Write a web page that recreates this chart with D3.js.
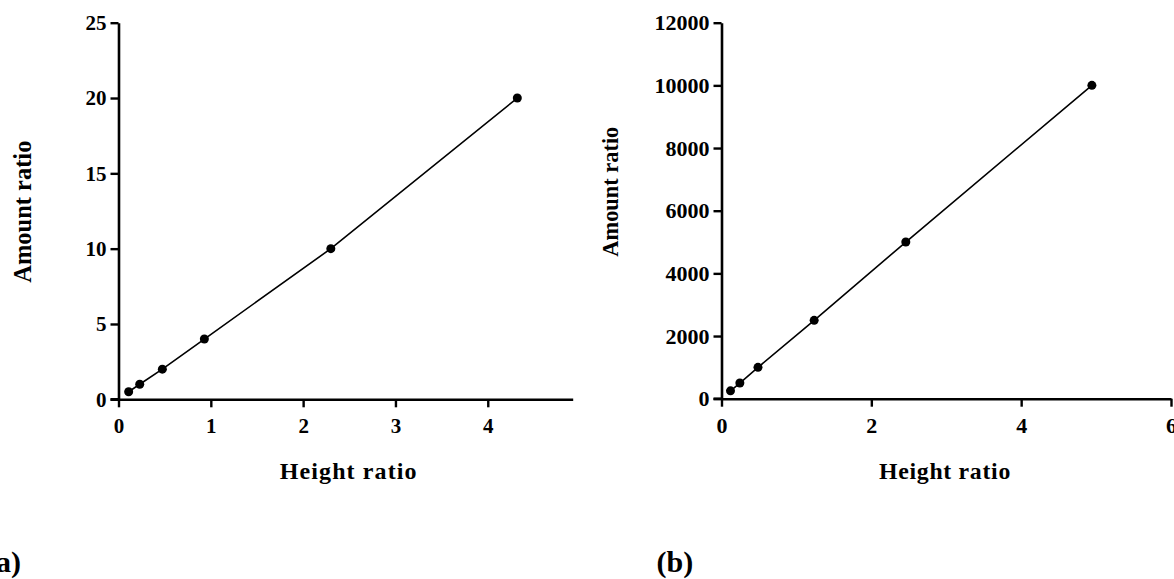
<!DOCTYPE html>
<html><head><meta charset="utf-8">
<script src="https://cdn.jsdelivr.net/npm/d3@7"></script>
<style>
body{margin:0;background:#fff}
svg{display:block;background:#fff}
text{font-family:"Liberation Serif","Times New Roman",serif;font-weight:bold;fill:#000}
</style>
</head><body>
<svg id="c" width="1174" height="579"></svg>
<script>
// Panel (a)
const heightRatioA = [0.11, 0.23, 0.475, 0.93, 2.30, 4.32];
const amountRatioA = [0.5, 1, 2, 4, 10, 20];
const xTicksA = [0, 1, 2, 3, 4];
const yTicksA = [0, 5, 10, 15, 20, 25];
// Panel (b)
const heightRatioB = [0.12, 0.245, 0.487, 1.237, 2.46, 4.944];
const amountRatioB = [250, 500, 1000, 2500, 5000, 10000];
const xTicksB = [0, 2, 4, 6];
const yTicksB = [0, 2000, 4000, 6000, 8000, 10000, 12000];
const xLabel = "Height ratio";
const yLabel = "Amount ratio";
const panelLabels = ["(a)", "(b)"];

const svg = d3.select("#c");

function panel(cfg) {
  const x = d3.scaleLinear().domain(cfg.xDomain).range(cfg.xRange);
  const y = d3.scaleLinear().domain(cfg.yDomain).range(cfg.yRange);
  const g = svg.append("g");

  const xAxis = d3.axisBottom(x).tickValues(cfg.xTicks).tickSize(8).tickSizeOuter(0).tickPadding(11).tickFormat(d3.format("d"));
  const gx = g.append("g").attr("transform", `translate(0,${cfg.yRange[0]})`).call(xAxis);
  const yAxis = d3.axisLeft(y).tickValues(cfg.yTicks).tickSize(8).tickSizeOuter(0).tickPadding(cfg.yPad).tickFormat(d3.format("d"));
  const gy = g.append("g").attr("transform", `translate(${cfg.xRange[0]},0)`).call(yAxis);

  [gx, gy].forEach(a => {
    a.select(".domain").attr("stroke", "#000").attr("stroke-width", 2.6);
    a.selectAll(".tick line").attr("stroke", "#000").attr("stroke-width", 2.4);
    a.selectAll(".tick text").style("font-family", '"Liberation Serif","Times New Roman",serif')
      .style("font-weight", "bold").attr("fill", "#000").style("font-size", cfg.tickFont + "px");
  });
  g.append("line").attr("x1", cfg.xRange[0] - 8).attr("x2", cfg.xRange[0])
    .attr("y1", cfg.yRange[0]).attr("y2", cfg.yRange[0]).attr("stroke", "#000").attr("stroke-width", 2.6);

  const pts = cfg.xs.map((v, i) => [v, cfg.ys[i]]);
  g.append("path").datum(pts)
    .attr("d", d3.line().x(d => x(d[0])).y(d => y(d[1])))
    .attr("fill", "none").attr("stroke", "#000").attr("stroke-width", 1.6);
  g.selectAll("circle.pt").data(pts).enter().append("circle")
    .attr("cx", d => x(d[0])).attr("cy", d => y(d[1])).attr("r", 4.5).attr("fill", "#000");

  g.append("text").attr("x", cfg.xLabelX).attr("y", 479).attr("text-anchor", "middle")
    .style("font-size", cfg.xLabelFont + "px").style("letter-spacing", cfg.xLabelLs + "px").text(xLabel);
  g.append("text").attr("transform", `translate(${cfg.yLabelX},${cfg.yLabelY}) rotate(-90)`)
    .attr("text-anchor", "middle").style("font-size", cfg.yLabelFont + "px").text(yLabel);
  g.append("text").attr("x", cfg.pX).attr("y", 572).attr("text-anchor", cfg.pAnchor)
    .style("font-size", "30px").text(cfg.pLabel);
}

panel({
  xs: heightRatioA, ys: amountRatioA, xTicks: xTicksA, yTicks: yTicksA,
  xDomain: [0, 4.92], xRange: [118.5, 572.7], yDomain: [0, 25], yRange: [399.3, 22.7],
  tickFont: 21, yPad: 4, xLabelX: 348.7, xLabelFont: 24, xLabelLs: 1.1,
  yLabelX: 30.5, yLabelY: 211.7, yLabelFont: 24.5,
  pLabel: panelLabels[0], pX: 21, pAnchor: "end"
});
panel({
  xs: heightRatioB, ys: amountRatioB, xTicks: xTicksB, yTicks: yTicksB,
  xDomain: [0, 6], xRange: [721.5, 1171], yDomain: [0, 12000], yRange: [398.7, 22.7],
  tickFont: 22, yPad: 4, xLabelX: 945, xLabelFont: 23.8, xLabelLs: 0.7,
  yLabelX: 617.5, yLabelY: 191.7, yLabelFont: 22.4,
  pLabel: panelLabels[1], pX: 656.5, pAnchor: "start"
});
</script>
</body></html>
